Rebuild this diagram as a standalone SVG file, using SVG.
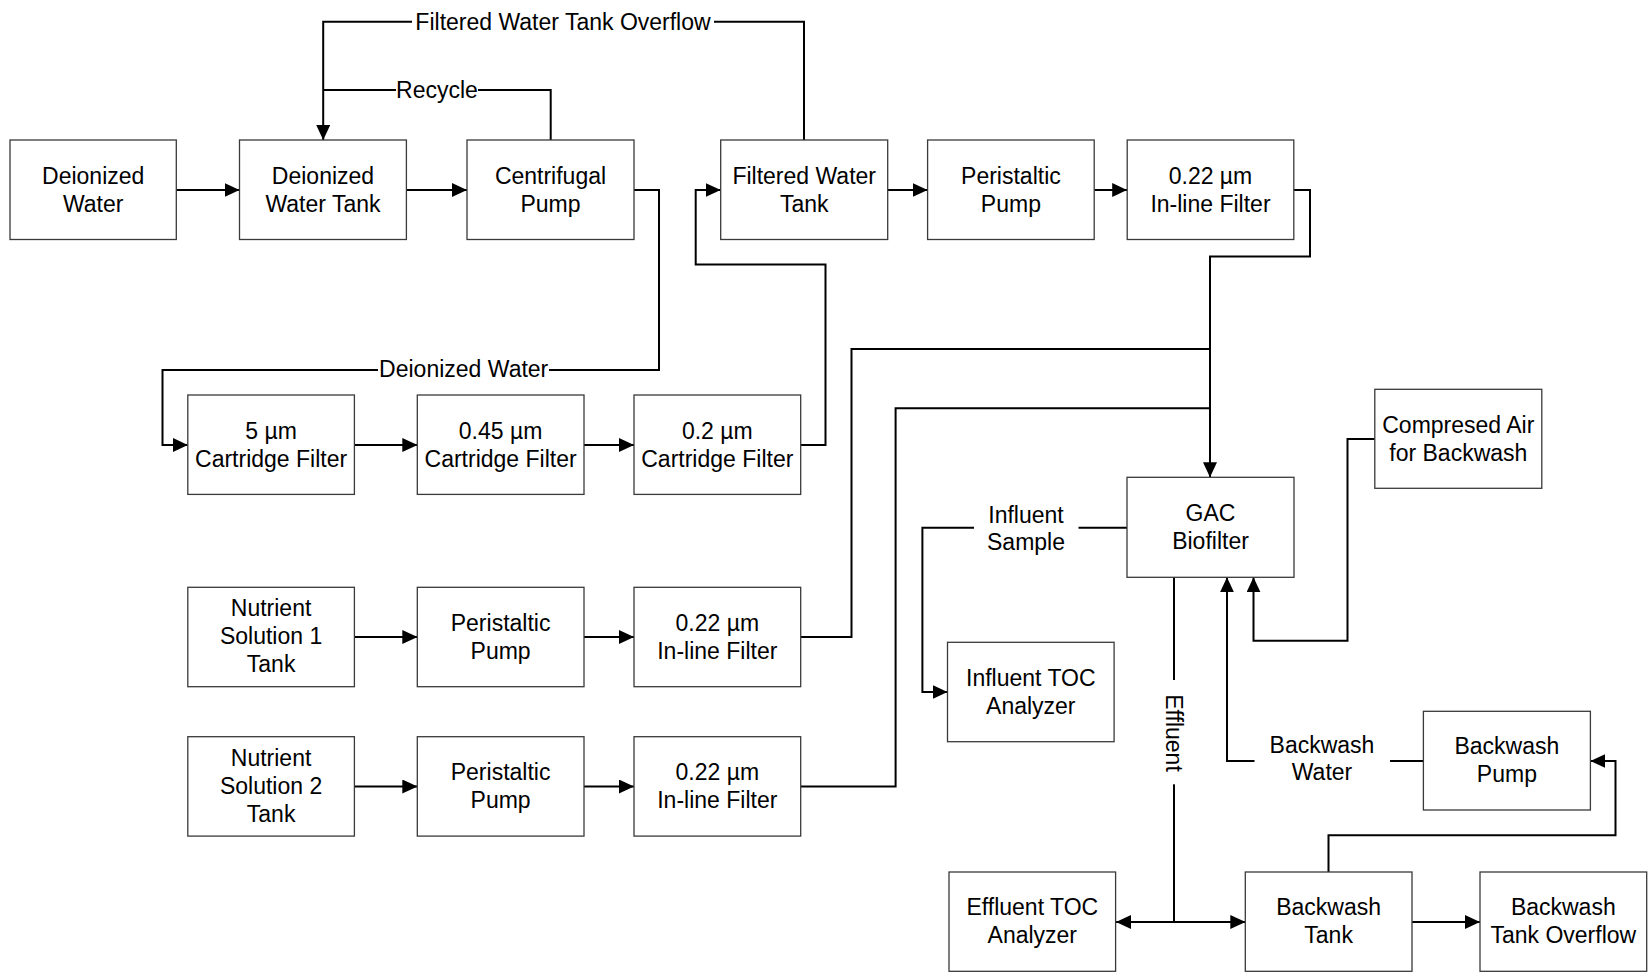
<svg xmlns="http://www.w3.org/2000/svg" width="1648" height="976" viewBox="0 0 1648 976">
  <style>
    .box { fill: #ffffff; stroke: #3a3a3a; stroke-width: 1.3; }
    .lbl { font-family: "Liberation Sans", Arial, sans-serif; font-size: 23px; fill: #000000; text-anchor: middle; }
    .wire { fill: none; stroke: #000000; stroke-width: 2; }
    .arrow { marker-end: url(#head); }
    .gap { fill: #ffffff; stroke: none; }
  </style>
  <defs>
    <marker id="head" markerUnits="userSpaceOnUse" markerWidth="15" markerHeight="14" refX="15" refY="7" orient="auto">
      <path d="M0,0 L15,7 L0,14 Z" fill="#000000"/>
    </marker>
  </defs>
  <rect width="1648" height="976" fill="#ffffff"/>

  <!-- connectors -->
  <g id="connectors">
    <path class="wire arrow" d="M176,190 H239.5"/>
    <path class="wire arrow" d="M406.4,190 H467"/>
    <path class="wire arrow" d="M634,190 H659 V370 H162.5 V445 H187.8"/>
    <path class="wire arrow" d="M354.4,445 H417.3"/>
    <path class="wire arrow" d="M584,445 H634"/>
    <path class="wire arrow" d="M800.7,445 H825.5 V264.5 H695.7 V190 H720.7"/>
    <path class="wire arrow" d="M887.7,190 H927.6"/>
    <path class="wire arrow" d="M1094.2,190 H1127.2"/>
    <path class="wire arrow" d="M1293.8,190 H1310 V256.5 H1210 V477.3"/>
    <path class="wire" d="M800.7,637 H851.5 V349 H1210"/>
    <path class="wire" d="M800.7,786.5 H895.6 V408.3 H1210"/>
    <path class="wire arrow" d="M804,140 V21.7 H323.2 V140"/>
    <path class="wire" d="M550.7,140 V90 H323.2"/>
    <path class="wire arrow" d="M354.4,637 H417.3"/>
    <path class="wire arrow" d="M584,637 H634"/>
    <path class="wire arrow" d="M354.4,786.5 H417.3"/>
    <path class="wire arrow" d="M584,786.5 H634"/>
    <path class="wire arrow" d="M1127,527.7 H922.4 V692 H947.5"/>
    <path class="wire" d="M1174,577.3 V922"/>
    <path class="wire arrow" d="M1174,922 H1116"/>
    <path class="wire arrow" d="M1174,922 H1245.3"/>
    <path class="wire arrow" d="M1423.4,761 H1227 V577.3"/>
    <path class="wire arrow" d="M1374.8,439 H1347.5 V640.7 H1253.5 V577.3"/>
    <path class="wire arrow" d="M1328.5,872 V835.3 H1615.5 V761 H1590.4"/>
    <path class="wire arrow" d="M1412,922 H1480"/>

    <!-- connector labels -->
    <rect class="gap" x="412" y="10" width="302" height="24"/>
    <text class="lbl" x="563" y="29.5">Filtered Water Tank Overflow</text>
    <rect class="gap" x="396" y="78" width="82" height="24"/>
    <text class="lbl" x="437" y="98">Recycle</text>
    <rect class="gap" x="378" y="358" width="171" height="24"/>
    <text class="lbl" x="463.7" y="377">Deionized Water</text>
    <rect class="gap" x="974" y="500" width="104.5" height="60"/>
    <text class="lbl" x="1026" y="522.5">Influent</text>
    <text class="lbl" x="1026" y="550">Sample</text>
    <rect class="gap" x="1254.5" y="735" width="135.5" height="50"/>
    <text class="lbl" x="1322" y="753">Backwash</text>
    <text class="lbl" x="1322" y="780">Water</text>
    <rect class="gap" x="1163" y="680" width="22" height="104.3"/>
    <text class="lbl" transform="translate(1174 733) rotate(90)" x="0" y="8">Effluent</text>
  </g>

  <!-- nodes -->
  <g id="deionized-water">
    <rect class="box" x="10" y="140" width="166.3" height="99.5"/>
    <text class="lbl" x="93.2" y="183.5">Deionized</text>
    <text class="lbl" x="93.2" y="211.5">Water</text>
  </g>
  <g id="deionized-water-tank">
    <rect class="box" x="239.5" y="140" width="166.9" height="99.5"/>
    <text class="lbl" x="323" y="183.5">Deionized</text>
    <text class="lbl" x="323" y="211.5">Water Tank</text>
  </g>
  <g id="centrifugal-pump">
    <rect class="box" x="467" y="140" width="167" height="99.5"/>
    <text class="lbl" x="550.5" y="183.5">Centrifugal</text>
    <text class="lbl" x="550.5" y="211.5">Pump</text>
  </g>
  <g id="filtered-water-tank">
    <rect class="box" x="720.7" y="140" width="167" height="99.5"/>
    <text class="lbl" x="804.2" y="183.5">Filtered Water</text>
    <text class="lbl" x="804.2" y="211.5">Tank</text>
  </g>
  <g id="peristaltic-pump-main">
    <rect class="box" x="927.6" y="140" width="166.6" height="99.5"/>
    <text class="lbl" x="1010.9" y="183.5">Peristaltic</text>
    <text class="lbl" x="1010.9" y="211.5">Pump</text>
  </g>
  <g id="inline-filter-main">
    <rect class="box" x="1127.2" y="140" width="166.6" height="99.5"/>
    <text class="lbl" x="1210.5" y="183.5">0.22 µm</text>
    <text class="lbl" x="1210.5" y="211.5">In-line Filter</text>
  </g>

  <g id="cartridge-filter-5">
    <rect class="box" x="187.8" y="395" width="166.6" height="99.4"/>
    <text class="lbl" x="271.1" y="438.5">5 µm</text>
    <text class="lbl" x="271.1" y="466.5">Cartridge Filter</text>
  </g>
  <g id="cartridge-filter-045">
    <rect class="box" x="417.3" y="395" width="166.7" height="99.4"/>
    <text class="lbl" x="500.6" y="438.5">0.45 µm</text>
    <text class="lbl" x="500.6" y="466.5">Cartridge Filter</text>
  </g>
  <g id="cartridge-filter-02">
    <rect class="box" x="634" y="395" width="166.7" height="99.4"/>
    <text class="lbl" x="717.3" y="438.5">0.2 µm</text>
    <text class="lbl" x="717.3" y="466.5">Cartridge Filter</text>
  </g>

  <g id="nutrient-tank-1">
    <rect class="box" x="187.8" y="587.3" width="166.6" height="99.4"/>
    <text class="lbl" x="271.1" y="616">Nutrient</text>
    <text class="lbl" x="271.1" y="644">Solution 1</text>
    <text class="lbl" x="271.1" y="672">Tank</text>
  </g>
  <g id="peristaltic-pump-1">
    <rect class="box" x="417.3" y="587.3" width="166.7" height="99.4"/>
    <text class="lbl" x="500.6" y="630.5">Peristaltic</text>
    <text class="lbl" x="500.6" y="658.5">Pump</text>
  </g>
  <g id="inline-filter-1">
    <rect class="box" x="634" y="587.3" width="166.7" height="99.4"/>
    <text class="lbl" x="717.3" y="630.5">0.22 µm</text>
    <text class="lbl" x="717.3" y="658.5">In-line Filter</text>
  </g>

  <g id="nutrient-tank-2">
    <rect class="box" x="187.8" y="736.7" width="166.6" height="99.4"/>
    <text class="lbl" x="271.1" y="765.5">Nutrient</text>
    <text class="lbl" x="271.1" y="793.5">Solution 2</text>
    <text class="lbl" x="271.1" y="821.5">Tank</text>
  </g>
  <g id="peristaltic-pump-2">
    <rect class="box" x="417.3" y="736.7" width="166.7" height="99.4"/>
    <text class="lbl" x="500.6" y="780">Peristaltic</text>
    <text class="lbl" x="500.6" y="808">Pump</text>
  </g>
  <g id="inline-filter-2">
    <rect class="box" x="634" y="736.7" width="166.7" height="99.4"/>
    <text class="lbl" x="717.3" y="780">0.22 µm</text>
    <text class="lbl" x="717.3" y="808">In-line Filter</text>
  </g>

  <g id="gac-biofilter">
    <rect class="box" x="1127" y="477.3" width="167" height="100"/>
    <text class="lbl" x="1210.5" y="521">GAC</text>
    <text class="lbl" x="1210.5" y="549">Biofilter</text>
  </g>
  <g id="compressed-air">
    <rect class="box" x="1374.8" y="389.3" width="167" height="99"/>
    <text class="lbl" x="1458.3" y="432.5">Compresed Air</text>
    <text class="lbl" x="1458.3" y="460.5">for Backwash</text>
  </g>
  <g id="influent-toc">
    <rect class="box" x="947.5" y="642.3" width="166.6" height="99.4"/>
    <text class="lbl" x="1030.8" y="685.5">Influent TOC</text>
    <text class="lbl" x="1030.8" y="713.5">Analyzer</text>
  </g>
  <g id="backwash-pump">
    <rect class="box" x="1423.4" y="711.3" width="167" height="98.7"/>
    <text class="lbl" x="1506.9" y="754">Backwash</text>
    <text class="lbl" x="1506.9" y="782">Pump</text>
  </g>
  <g id="effluent-toc">
    <rect class="box" x="949" y="872" width="166.6" height="99.3"/>
    <text class="lbl" x="1032.3" y="915">Effluent TOC</text>
    <text class="lbl" x="1032.3" y="943">Analyzer</text>
  </g>
  <g id="backwash-tank">
    <rect class="box" x="1245.3" y="872" width="166.7" height="99.3"/>
    <text class="lbl" x="1328.6" y="915">Backwash</text>
    <text class="lbl" x="1328.6" y="943">Tank</text>
  </g>
  <g id="backwash-tank-overflow">
    <rect class="box" x="1480" y="872" width="166.7" height="99.3"/>
    <text class="lbl" x="1563.3" y="915">Backwash</text>
    <text class="lbl" x="1563.3" y="943">Tank Overflow</text>
  </g>
</svg>
